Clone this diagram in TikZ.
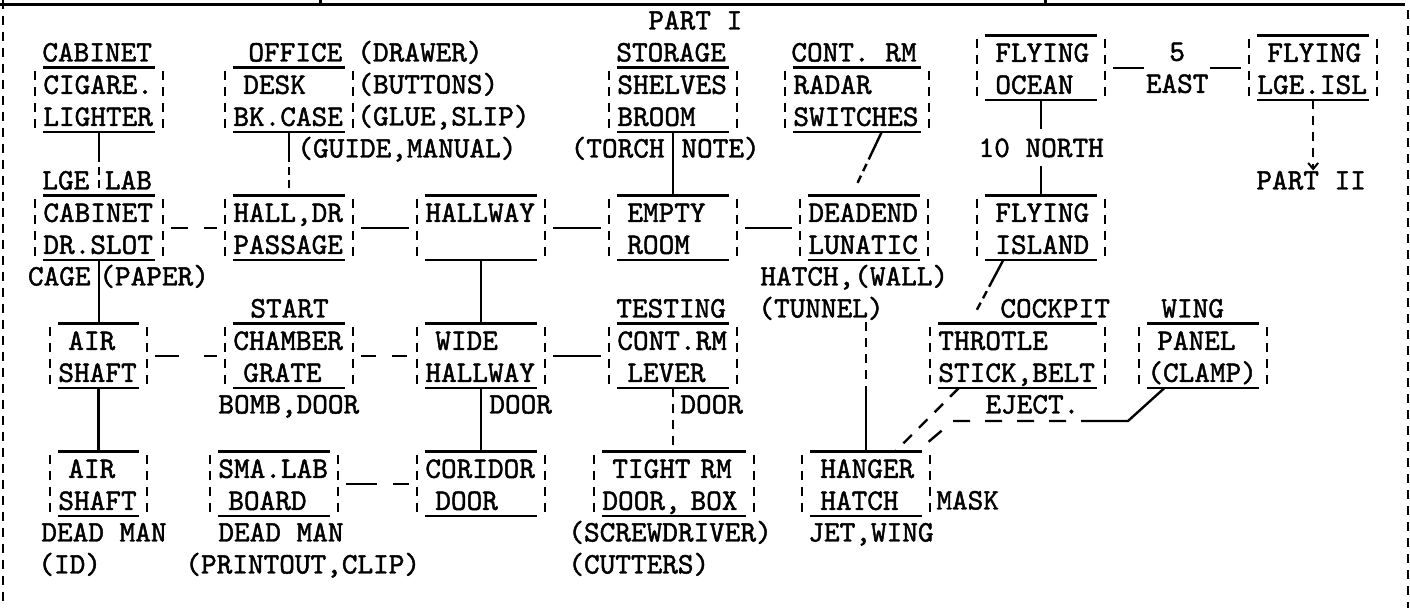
\documentclass[tikz,border=0pt]{standalone}
\usepackage{fontspec}
\setmonofont{lmmono10-regular.otf}[FakeBold=1.5]
\usetikzlibrary{arrows.meta}
\newlength{\chw}
\AtBeginDocument{\settowidth{\chw}{\ttfamily\fontsize{14.9}{16}\selectfont M}}
\tikzset{
  room/.style={text width=#1*\chw+1pt,align=left,inner xsep=8pt,inner ysep=0pt,anchor=north west,
    execute at begin node=\rule{0pt}{13pt},execute at end node=\rule[-3pt]{0pt}{3pt}},
  lbl/.style={inner sep=0pt,anchor=base west},
  floor/.style={line width=1.2pt},
  wall/.style={line width=1pt,dash pattern=on 4.5pt off 3.5pt},
  wire/.style={line width=1.2pt},
  halfwire/.style={wire,dash pattern=on 15pt off 2.5pt on 4pt off 2.5pt on 4pt off 20pt},
}
\begin{document}
\begin{tikzpicture}[x=0.5pt,y=-0.5pt,font=\ttfamily\fontsize{14.9}{16}\selectfont]
\useasboundingbox (0,0) rectangle (1410,608);
% frame
\draw[line width=1.5pt] (0,5) -- (1405,5) (320,0) -- (320,5) (1045,0) -- (1045,5);
\draw[wall] (3,0) -- (3,608) (1408,10) -- (1408,608);
% rooms
\node[room=7] (cig) at (27,67.5) {CIGARE.\\LIGHTER};
\node[room=7] (desk) at (217,67.5) {~DESK\\BK.CASE};
\node[room=7] (shelves) at (601,67.5) {SHELVES\\BROOM};
\node[room=8] (radar) at (777,67.5) {RADAR\\SWITCHES};
\node[room=7] (ocean) at (969,35.5) {~FLYING\\~OCEAN};
\node[room=7] (lgeisl) at (1241,35.5) {~FLYING\\LGE.ISL};
\node[room=7] (slot) at (27,195.5) {CABINET\\DR.SLOT};
\node[room=7] (hall) at (217,195.5) {HALL,DR\\PASSAGE};
\node[room=7] (hallway) at (409,195.5) {HALLWAY\\};
\node[room=7] (empty) at (601,195.5) {~EMPTY\\~ROOM};
\node[room=7] (dead) at (792,195.5) {DEADEND\\LUNATIC};
\node[room=7] (island) at (969,195.5) {~FLYING\\~ISLAND};
\node[room=5] (shaft) at (42,323.5) {~AIR\\SHAFT};
\node[room=7] (chamber) at (217,323.5) {CHAMBER\\~GRATE};
\node[room=7] (wide) at (409,323.5) {~WIDE\\HALLWAY};
\node[room=7] (lever) at (601,323.5) {CONT.RM\\~LEVER};
\node[room=10] (throttle) at (922,323.5) {THROTLE\\STICK,BELT};
\node[room=7] (panel) at (1131,323.5) {~PANEL\\(CLAMP)};
\node[room=5] (deadshaft) at (42,451.5) {~AIR\\SHAFT};
\node[room=7] (smalab) at (202,451.5) {SMA.LAB\\~BOARD};
\node[room=7] (coridor) at (409,451.5) {CORIDOR\\~DOOR};
\node[room=9] (tight) at (586,451.5) {~TIGHT RM\\DOOR,~BOX};
\node[room=7] (hanger) at (794,451.5) {~HANGER\\~HATCH};
\foreach \rn in {cig,desk,shelves,radar,ocean,lgeisl,slot,hall,hallway,empty,dead,island,shaft,chamber,wide,lever,throttle,panel,deadshaft,smalab,coridor,tight,hanger}{
  \draw[floor] ([xshift=8pt]\rn.north west) -- ([xshift=-8pt]\rn.north east) ([xshift=8pt]\rn.south west) -- ([xshift=-8pt]\rn.south east);
  \draw[wall] ([xshift=4pt,yshift=-2pt]\rn.north west) -- ([xshift=4pt]\rn.south west) ([xshift=-4pt,yshift=-2pt]\rn.north east) -- ([xshift=-4pt]\rn.south east);
}
% labels
\node[lbl] (part1) at (648,29.5) {PART I};
\node[lbl] (cabinet) at (42,61.5) {CABINET};
\node[lbl] (office) at (248,61.5) {OFFICE};
\node[lbl] (drawer) at (357,61.5) {(DRAWER)};
\node[lbl] (buttons) at (357,93.5) {(BUTTONS)};
\node[lbl] (glue) at (357,125.5) {(GLUE,SLIP)};
\node[lbl] (guide) at (297,157.5) {(GUIDE,MANUAL)};
\node[lbl] (storage) at (616,61.5) {STORAGE};
\node[lbl,anchor=base east] (torch) at (665,157.5) {(TORCH};
\node[lbl] (note) at (681,157.5) {NOTE)};
\node[lbl] (contrm) at (791,61.5) {CONT. RM};
\node[lbl] (part2) at (1256,189.5) {PART II};
\node[lbl] (lgelab) at (42,189.5) {LGE~LAB};
\node[lbl,anchor=base east] (cage) at (91,285.5) {CAGE};
\node[lbl] (paper) at (99,285.5) {(PAPER)};
\node[lbl] (hatch) at (760,285.5) {HATCH,(WALL)};
\node[lbl] (tunnel) at (758,317.5) {(TUNNEL)};
\node[lbl] (start) at (250,317.5) {START};
\node[lbl] (testing) at (616,317.5) {TESTING};
\node[lbl] (cockpit) at (1000,317.5) {COCKPIT};
\node[lbl] (wing) at (1161,317.5) {WING};
\node[lbl] (bomb) at (218,413.5) {BOMB,DOOR};
\node[lbl] (door1) at (489,413.5) {DOOR};
\node[lbl] (door2) at (680,413.5) {DOOR};
\node[lbl] (eject) at (985,413.5) {EJECT.};
\node[lbl] (mask) at (936,509.5) {MASK};
\node[lbl] (jet) at (808,541.5) {JET,WING};
\node[lbl] (deadman1) at (41,541.5) {DEAD MAN};
\node[lbl] (id) at (38,573.5) {(ID)};
\node[lbl] (deadman2) at (218,541.5) {DEAD MAN};
\node[lbl] (printout) at (185,573.5) {(PRINTOUT,CLIP)};
\node[lbl] (screw) at (568,541.5) {(SCREWDRIVER)};
\node[lbl] (cutters) at (568,573.5) {(CUTTERS)};
% connectors
\draw[halfwire] (cig.south) -- (cig.south |- slot.north);
\draw[halfwire] (desk.south) -- (desk.south |- hall.north);
\draw[wire] (shelves.south) -- (shelves.south |- empty.north);
\draw[halfwire] ([xshift=12.3pt]radar.south) -- ([xshift=-6.3pt]dead.north);
\draw[wire] (ocean) -- node[fill=white,inner sep=4.5pt] (north10) {10 NORTH} (island);
\draw[wire] (ocean) -- node[fill=white,inner sep=1pt,align=center] (east5) {5\\EAST} (lgeisl);
\draw[wall,-{Straight Barb[length=3pt,width=5pt]}] (lgeisl.south) -- (lgeisl.south |- part2.north);
\draw[wire,dash pattern=on 8.5pt off 8pt] (slot) -- (hall);
\draw[wire] (hall) -- (hallway);
\draw[wire] (hallway) -- (empty);
\draw[wire] (empty) -- (dead);
\draw[wire] (slot.south) -- (slot.south |- shaft.north);
\draw[wire] (hallway.south) -- (hallway.south |- wide.north);
\draw[halfwire] ([xshift=-19pt]island.south) -- ([xshift=-24pt]throttle.north);
\draw[wire,dash pattern=on 12pt off 12.5pt] (shaft) -- (chamber);
\draw[wire,dash pattern=on 7.5pt off 8pt] (chamber) -- (wide);
\draw[wire] (wide) -- (lever);
\draw[wire] (shaft.south) -- (shaft.south |- deadshaft.north);
\draw[wire] (wide.south) -- (wide.south |- coridor.north);
\draw[wall] (lever.south) -- (lever.south |- tight.north);
\draw[wire,dash pattern=on 15.5pt off 8pt] (smalab) -- (coridor);
\coordinate (hatchtop) at ([yshift=28pt]hanger.north);
\draw[wire] (hanger.north) -- (hatchtop);
\draw[wall] (hatchtop) -- (hatchtop |- tunnel.south);
\draw[wire,dash pattern=on 6pt off 5pt] ([xshift=-29.5pt]throttle.south) -- ([xshift=14.5pt]hanger.north);
\coordinate (bend) at (1128,421);
\coordinate (ejectr) at (1083,421);
\coordinate (ejectl) at (953,421);
\draw[wire] ([xshift=-19.5pt]panel.south) -- (bend) -- (ejectr);
\draw[wire,dash pattern=on 8.5pt off 7.5pt,dash phase=7.5pt] (ejectr) -- (ejectl) -- ([xshift=25.5pt]hanger.north);
\end{tikzpicture}
\end{document}
